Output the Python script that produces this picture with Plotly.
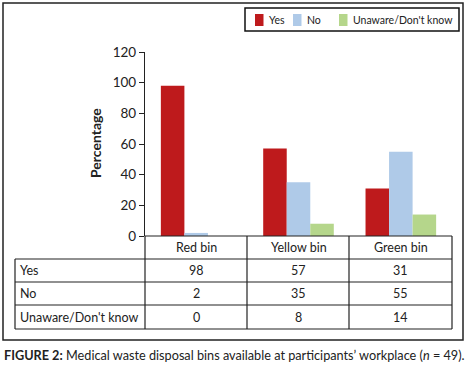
import plotly.graph_objects as go

categories = ["Red bin", "Yellow bin", "Green bin"]
series_names = ["Yes", "No", "Unaware/Don't know"]
yes_vals = [98, 57, 31]
no_vals = [2, 35, 55]
unaware_vals = [0, 8, 14]
y_ticks = [0, 20, 40, 60, 80, 100, 120]

colors = ["#BE1A1C", "#AFCAE8", "#B5D68B"]
FONT = "Lato"
W, H = 475, 370
L, R, T, B = 145, 452, 52, 236  # plot area in pixels


def px(x):
    return (x - L) / (R - L)


def py(y):
    return (B - y) / (B - T)


fig = go.Figure()
for name, vals, c in zip(series_names, [yes_vals, no_vals, unaware_vals], colors):
    fig.add_trace(go.Bar(x=categories, y=vals, name=name, showlegend=False,
                         marker=dict(color=c, line=dict(width=0))))

shapes = []
annotations = []
# outer frame
shapes.append(dict(type="rect", xref="paper", yref="paper", x0=px(3), x1=px(463), y0=py(3), y1=py(340),
                   line=dict(color="#222", width=1.5)))

# legend (box, swatches, labels)
shapes.append(dict(type="rect", xref="paper", yref="paper", x0=px(245), x1=px(459), y0=py(8), y1=py(31),
                   line=dict(color="#111", width=1.5)))
swatch_x = [255, 293, 339]
for name, c, sx in zip(series_names, colors, swatch_x):
    shapes.append(dict(type="rect", xref="paper", yref="paper", x0=px(sx), x1=px(sx + 8.5),
                       y0=py(14), y1=py(26), line=dict(width=0), fillcolor=c))
    annotations.append(dict(x=px(sx + 11.5), y=py(19.5), xref="paper", yref="paper", text=name, showarrow=False,
                            font=dict(family=FONT, size=10.5, color="#222"), xanchor="left", yanchor="middle"))

# table lines
row_lines = [259, 282, 305, 329]
for yl in row_lines:
    shapes.append(dict(type="line", xref="paper", yref="paper", x0=px(15), x1=px(452), y0=py(yl), y1=py(yl),
                       line=dict(color="#222", width=1.2)))
for xl in [145, 247, 349, 452]:
    shapes.append(dict(type="line", xref="paper", yref="paper", x0=px(xl), x1=px(xl), y0=py(236), y1=py(329),
                       line=dict(color="#222", width=1.2)))
shapes.append(dict(type="line", xref="paper", yref="paper", x0=px(15), x1=px(15), y0=py(259), y1=py(329),
                   line=dict(color="#222", width=1.2)))
shapes.append(dict(type="line", xref="paper", yref="paper", x0=px(145), x1=px(452), y0=py(236), y1=py(236),
                   line=dict(color="#222", width=1.2)))

# header row
for cat in categories:
    annotations.append(dict(x=cat, y=py(247.5), xref="x", yref="paper", text=cat, showarrow=False,
                            font=dict(family=FONT, size=12.5, color="#222"), xanchor="center", yanchor="middle"))
row_centers = [270.5, 293.5, 317]
for name, vals, yc in zip(series_names, [yes_vals, no_vals, unaware_vals], row_centers):
    annotations.append(dict(x=px(18), y=py(yc), xref="paper", yref="paper", text=name, showarrow=False,
                            font=dict(family=FONT, size=12.5, color="#222"), xanchor="left", yanchor="middle"))
    for cat, v in zip(categories, vals):
        annotations.append(dict(x=cat, y=py(yc), xref="x", yref="paper", text=str(v), showarrow=False,
                                font=dict(family=FONT, size=12.5, color="#222"), xanchor="center", yanchor="middle"))
# y-axis title
annotations.append(dict(x=px(95), y=py(143), xref="paper", yref="paper", text="<b>Percentage</b>", textangle=-90,
                        showarrow=False, font=dict(family=FONT, size=14, color="#222"),
                        xanchor="center", yanchor="middle"))
# caption
annotations.append(dict(x=px(2), y=py(355), xref="paper", yref="paper",
                        text="<b>FIGURE 2:</b> Medical waste disposal bins available at participants\u2019 workplace (<i>n</i> = 49).",
                        showarrow=False, font=dict(family=FONT, size=12.7, color="#222"),
                        xanchor="left", yanchor="middle"))

fig.update_layout(
    width=W, height=H,
    margin=dict(l=L, r=W - R, t=T, b=H - B, autoexpand=False),
    paper_bgcolor="white", plot_bgcolor="white",
    barmode="group", bargap=0.31, bargroupgap=0,
    hovermode=False,
    showlegend=False,
    xaxis=dict(showticklabels=False, showline=False, ticks="", showgrid=False, zeroline=False),
    yaxis=dict(range=[0, 120], tickvals=y_ticks, showline=True, linecolor="#222", linewidth=1.2,
               ticks="outside", ticklen=5, tickcolor="#222", showgrid=False, zeroline=False,
               tickfont=dict(family=FONT, size=13.5, color="#222")),
    shapes=shapes, annotations=annotations,
)

fig.write_html("out.html", config={"displayModeBar": False},
               post_script="document.body.style.margin='0';")
